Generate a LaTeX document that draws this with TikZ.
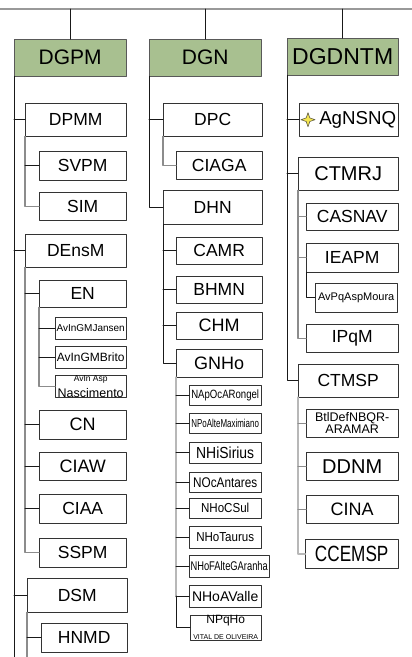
\documentclass[tikz,border=0pt]{standalone}
\usepackage{fontspec}
\setmainfont{Liberation Sans}
\usepackage{graphicx}
\definecolor{headgreen}{RGB}{168,192,144}
\definecolor{staryellow}{RGB}{245,230,80}
\newcommand{\setfs}[1]{\fontsize{#1}{#1}\selectfont}
\newcommand{\narrow}[3]{\scalebox{#1}[1]{\setfs{#2}#3}}

\begin{document}
\begin{tikzpicture}[x=1pt, y=-1pt, line join=round, line cap=round]
	\tikzset{
		head/.style={draw=black!65, fill=headgreen, anchor=north west, inner sep=0pt, font=\setfs{21}},
		box/.style={draw=black!80, fill=white, anchor=north west, inner sep=0pt, align=center, font=\setfs{17.5}},
		wh/.style 2 args={minimum width=#1pt, minimum height=#2pt},
		trunk/.style={draw=black!90, line width=1pt},
		subtrunk/.style={draw=black!45, line width=1.3pt},
		palebar/.style={draw=black!28, line width=2.4pt},
		stub/.style={draw=black!90, line width=1pt},
	}
	%page
	\useasboundingbox (0,0) rectangle (412,657);
	\coordinate (topL) at (0,9);
	\coordinate (topR) at (412,9);
	\coordinate (endA) at (14,657);
	\coordinate (endB) at (27,657);
	
	%heads
	\node[head, wh={112}{37}] (DGPM) at (14,39) {DGPM};
	\node[head, wh={112}{37}] (DGN) at (149,39) {DGN};
	\node[head, wh={111}{37}, font=\setfs{23}] (DGDNTM) at (287,38) {DGDNTM};
	
	%DGPM
	\node[box, wh={101}{33}] (DPMM) at (25,103) {DPMM};
	\node[box, wh={87}{29}] (SVPM) at (39,151) {SVPM};
	\node[box, wh={87}{28}] (SIM) at (39,192) {SIM};
	\node[box, wh={101}{33}] (DEnsM) at (25,234) {DEnsM};
	\node[box, wh={87}{27}] (EN) at (39,280) {EN};
	\node[box, wh={71}{22}, font=\setfs{10}] (Jansen) at (55,317) {AvInGMJansen};
	\node[box, wh={71}{22}, font=\setfs{12}] (Brito) at (55,346) {AvInGMBrito};
	\node[box, wh={71}{21}] (Nascimento) at (55,375) {{\setfs{8.5}AvIn Asp}\\[-1pt]{\setfs{12.5}Nascimento}};
	\node[box, wh={87}{29}, font=\setfs{18}] (CN) at (39,410) {CN};
	\node[box, wh={87}{28}, font=\setfs{18}] (CIAW) at (39,452) {CIAW};
	\node[box, wh={87}{29}] (CIAA) at (39,494) {CIAA};
	\node[box, wh={87}{29}] (SSPM) at (39,538) {SSPM};
	\node[box, wh={100}{34}] (DSM) at (27,578) {DSM};
	\node[box, wh={86}{29}] (HNMD) at (41,623) {HNMD};
	
	%DGN
	\node[box, wh={99}{33}] (DPC) at (163,103) {DPC};
	\node[box, wh={86}{28}] (CIAGA) at (176,151) {CIAGA};
	\node[box, wh={99}{34}] (DHN) at (163,190) {DHN};
	\node[box, wh={86}{27}] (CAMR) at (176,237) {CAMR};
	\node[box, wh={86}{27}] (BHMN) at (176,276) {BHMN};
	\node[box, wh={86}{27}, font=\setfs{18}] (CHM) at (176,312) {CHM};
	\node[box, wh={86}{28}, font=\setfs{18}] (GNHo) at (176,349) {GNHo};
	\node[box, wh={72}{20}] (NApOcARongel) at (189,385) {\narrow{0.8}{12}{NApOcARongel}};
	\node[box, wh={72}{20}] (NPoAlteMaximiano) at (189,413) {\narrow{0.69}{11.5}{NPoAlteMaximiano}};
	\node[box, wh={72}{21}] (NHiSirius) at (189,442) {\narrow{0.87}{16}{NHiSirius}};
	\node[box, wh={72}{20}] (NOcAntares) at (189,472) {\narrow{0.84}{14}{NOcAntares}};
	\node[box, wh={72}{20}] (NHoCSul) at (189,498) {\narrow{0.89}{13}{NHoCSul}};
	\node[box, wh={72}{22}] (NHoTaurus) at (189,526) {\narrow{0.89}{13}{NHoTaurus}};
	\node[box, wh={80}{22}] (NHoFAlteGAranha) at (189,555) {\narrow{0.74}{12.6}{NHoFAlteGAranha}};
	\node[box, wh={72}{22}, font=\setfs{14}] (NHoAValle) at (189,585) {NHoAValle};
	\node[box, wh={71}{22}] (NPqHo) at (190,615) {{\setfs{12}NPqHo}\\[-1pt]{\setfs{7}VITAL DE OLIVEIRA}};
	
	%DGDNTM
	\node[box, wh={99}{33}, font=\setfs{18.7}] (AgNSNQ) at (299,103) {\hspace*{18pt}AgNSNQ};
	\node[box, wh={100}{33}, font=\setfs{20}] (CTMRJ) at (298,157) {CTMRJ};
	\node[box, wh={92}{27}] (CASNAV) at (306,203) {CASNAV};
	\node[box, wh={92}{29}] (IEAPM) at (306,243) {IEAPM};
	\node[box, wh={82}{29}, font=\setfs{11}] (AvPqAspMoura) at (315,283) {AvPqAspMoura};
	\node[box, wh={92}{28}] (IPqM) at (306,324) {IPqM};
	\node[box, wh={100}{33}] (CTMSP) at (298,364) {CTMSP};
	\node[box, wh={92}{28}, font=\setfs{12.5}] (BtlDefNBQR) at (306,409) {BtlDefNBQR-\\[-0.5pt]ARAMAR};
	\node[box, wh={92}{28}, font=\setfs{20}] (DDNM) at (306,452) {DDNM};
	\node[box, wh={92}{28}, font=\setfs{18}] (CINA) at (306,495) {CINA};
	\node[box, wh={93}{29}] (CCEMSP) at (305,539) {\narrow{0.78}{22}{CCEMSP}};
	
	%star
	\begin{scope}[shift={(AgNSNQ.west)}, xshift=9pt]
		\filldraw[fill=staryellow, draw=black!55!yellow!60!black, line width=0.6pt]
		(0,-7) -- (1.8,-1.8) -- (7,0) -- (1.8,1.8) -- (0,7) -- (-1.8,1.8) -- (-7,0) -- (-1.8,-1.8) -- cycle;
	\end{scope}
	
	%top line
	\draw[draw=black!40, line width=1.5pt] (topL) -- (topR);
	\foreach \h in {DGPM,DGN,DGDNTM}
	\draw[trunk] (\h.north) -- (\h.north |- topL);
	
	%DGPM lines
	\draw[trunk] (DGPM.south west) -- (endA);
	\foreach \n in {DPMM,DEnsM,DSM}
	\draw[stub] (\n.west) -- (\n.west -| DGPM.south west);
	\draw[subtrunk] (DPMM.south west) |- (SIM.west);
	\draw[stub] (SVPM.west) -- (SVPM.west -| DPMM.south west);
	\draw[subtrunk] (DEnsM.south west) |- (SSPM.west);
	\foreach \n in {EN,CN,CIAW,CIAA}
	\draw[stub] (\n.west) -- (\n.west -| DEnsM.south west);
	\draw[subtrunk] (EN.south west) |- (Nascimento.west);
	\foreach \n in {Jansen,Brito}
	\draw[stub] (\n.west) -- (\n.west -| EN.south west);
	\draw[subtrunk] (DSM.south west) -- (endB);
	\draw[stub] (HNMD.west) -- (HNMD.west -| DSM.south west);
	
	%DGN lines
	\draw[trunk] (DGN.south west) |- (DHN.west);
	\draw[stub] (DPC.west) -- (DPC.west -| DGN.south west);
	\draw[subtrunk] (DPC.south west) |- (CIAGA.west);
	\draw[trunk] (DHN.south west) |- (GNHo.west);
	\foreach \n in {CAMR,BHMN,CHM}
	\draw[stub] (\n.west) -- (\n.west -| DHN.south west);
	\draw[palebar] (GNHo.south west) -- (GNHo.south west |- NHoAValle.west);
	\draw[stub] (GNHo.south west |- NHoAValle.west) |- (NPqHo.west);
	\foreach \n in {NApOcARongel,NPoAlteMaximiano,NHiSirius,NOcAntares,NHoCSul,NHoTaurus,NHoFAlteGAranha,NHoAValle}
	\draw[stub] (\n.west) -- (\n.west -| GNHo.south west);
	
	%DGDNTM lines
	\draw[trunk] (DGDNTM.south west) |- (CTMSP.west);
	\foreach \n in {AgNSNQ,CTMRJ}
	\draw[stub] (\n.west) -- (\n.west -| DGDNTM.south west);
	\draw[subtrunk] (CTMRJ.south west) |- (IPqM.west);
	\foreach \n in {CASNAV,IEAPM}
	\draw[subtrunk] (\n.west) -- (\n.west -| CTMRJ.south west);
	\draw[trunk] (IEAPM.south west) |- (AvPqAspMoura.west);
	\draw[palebar] (CTMSP.south west) |- (CCEMSP.west);
	\foreach \n in {BtlDefNBQR,DDNM,CINA}
	\draw[subtrunk] (\n.west) -- (\n.west -| CTMSP.south west);
\end{tikzpicture}
\end{document}
